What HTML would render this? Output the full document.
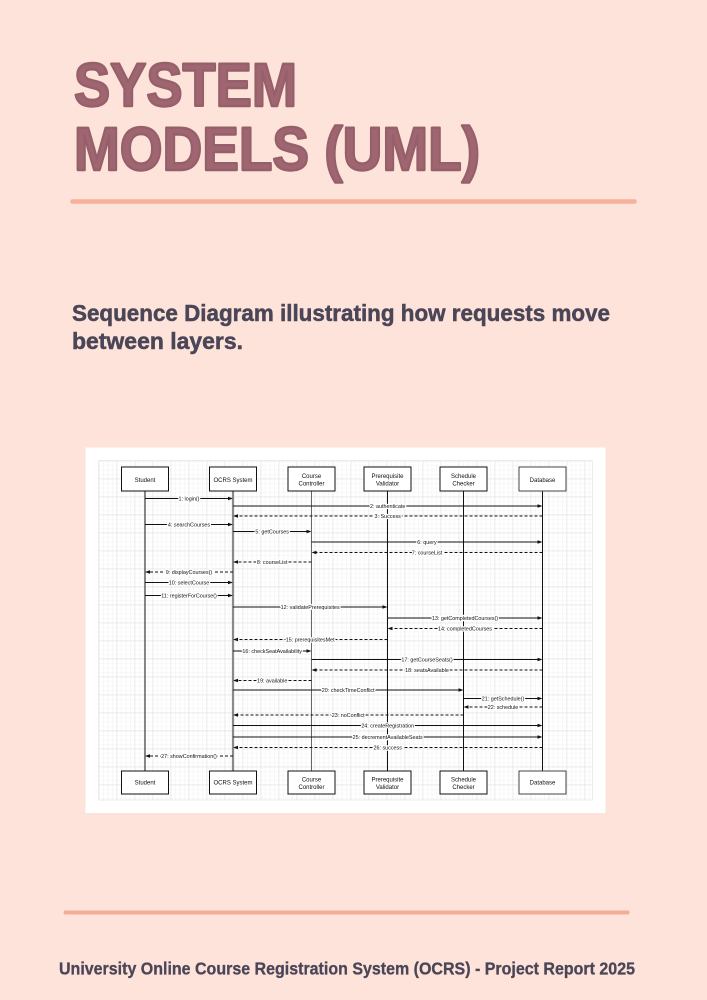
<!DOCTYPE html>
<html>
<head>
<meta charset="utf-8">
<style>
  html,body{margin:0;padding:0;background:#fde3d9;}
  body{width:707px;height:1000px;overflow:hidden;}
  svg{display:block;}
  .t{font-family:"Liberation Sans",Arial,sans-serif;}
</style>
</head>
<body>
<svg width="707" height="1000" viewBox="0 0 707 1000" xmlns="http://www.w3.org/2000/svg">
  <defs>
    <pattern id="minor" x="98.7" y="460.7" width="4.5" height="4.5" patternUnits="userSpaceOnUse">
      <path d="M0 0 H4.5 M0 0 V4.5" stroke="#e8e8e8" stroke-width="0.6" fill="none"/>
    </pattern>
    <pattern id="major" x="98.7" y="460.7" width="18" height="18" patternUnits="userSpaceOnUse">
      <path d="M0 0 H18 M0 0 V18" stroke="#d4d4d4" stroke-width="0.7" fill="none"/>
    </pattern>
  </defs>

  <!-- background -->
  <rect x="0" y="0" width="707" height="1000" fill="#fde3d9"/>

  <!-- Title -->
  <g class="t" font-weight="bold" font-size="61" fill="#9f6571" stroke="#96606b" stroke-width="2.4" stroke-linejoin="round">
    <text x="74" y="106" textLength="223" lengthAdjust="spacingAndGlyphs">SYSTEM</text>
    <text x="74" y="170" textLength="406" lengthAdjust="spacingAndGlyphs">MODELS (UML)</text>
  </g>

  <!-- top rule -->
  <line x1="72.5" y1="201.5" x2="634.5" y2="201.5" stroke="#f6b19c" stroke-width="4.5" stroke-linecap="round"/>

  <!-- Subtitle -->
  <g class="t" font-weight="bold" font-size="23" fill="#4b4657" stroke="#4b4657" stroke-width="0.5">
    <text x="72" y="321" textLength="538" lengthAdjust="spacingAndGlyphs">Sequence Diagram illustrating how requests move</text>
    <text x="72" y="349" textLength="171" lengthAdjust="spacingAndGlyphs">between layers.</text>
  </g>

  <!-- Diagram panel -->
  <rect x="85.5" y="447.5" width="520" height="365.5" fill="#ffffff"/>
  <rect x="98.7" y="460.7" width="493.6" height="339.3" fill="url(#minor)"/>
  <rect x="98.7" y="460.7" width="493.6" height="339.3" fill="url(#major)"/>
  <rect x="98.7" y="460.7" width="493.6" height="339.3" fill="none" stroke="#dedede" stroke-width="0.6"/>

  <!-- lifelines -->
  <g fill="none">
    <line x1="145" y1="491" x2="145" y2="771" stroke="#111" stroke-width="1"/>
    <line x1="233" y1="491" x2="233" y2="771" stroke="#8a8a8a" stroke-width="2.2"/>
    <line x1="311.5" y1="491" x2="311.5" y2="771" stroke="#666" stroke-width="1"/>
    <line x1="387.5" y1="491" x2="387.5" y2="771" stroke="#111" stroke-width="1"/>
    <line x1="463.5" y1="491" x2="463.5" y2="771" stroke="#111" stroke-width="1"/>
    <line x1="542.5" y1="491" x2="542.5" y2="771" stroke="#111" stroke-width="1"/>
  </g>

  <!-- participant boxes -->
  <g fill="#fff" stroke="#111" stroke-width="1">
    <rect x="121.5" y="467" width="47" height="24"/>
    <rect x="209.5" y="467" width="47" height="24"/>
    <rect x="288" y="467" width="47" height="24"/>
    <rect x="364" y="467" width="47" height="24"/>
    <rect x="440" y="467" width="47" height="24"/>
    <rect x="519" y="467" width="47" height="24" stroke="#444"/>
    <rect x="121.5" y="771" width="47" height="23"/>
    <rect x="209.5" y="771" width="47" height="23"/>
    <rect x="288" y="771" width="47" height="23"/>
    <rect x="364" y="771" width="47" height="23"/>
    <rect x="440" y="771" width="47" height="23"/>
    <rect x="519" y="771" width="47" height="23" stroke="#444"/>
  </g>
  <g class="t" font-size="6" fill="#111" text-anchor="middle">
    <text x="145" y="481.8">Student</text>
    <text x="233" y="481.8">OCRS System</text>
    <text x="311.5" y="478.2">Course</text>
    <text x="311.5" y="485.5">Controller</text>
    <text x="387.5" y="478.2">Prerequisite</text>
    <text x="387.5" y="485.5">Validator</text>
    <text x="463.5" y="478.2">Schedule</text>
    <text x="463.5" y="485.5">Checker</text>
    <text x="542.5" y="481.8">Database</text>

    <text x="145" y="784.4">Student</text>
    <text x="233" y="784.4">OCRS System</text>
    <text x="311.5" y="781.4">Course</text>
    <text x="311.5" y="788.8">Controller</text>
    <text x="387.5" y="781.4">Prerequisite</text>
    <text x="387.5" y="788.8">Validator</text>
    <text x="463.5" y="781.4">Schedule</text>
    <text x="463.5" y="788.8">Checker</text>
    <text x="542.5" y="784.4">Database</text>
  </g>

  <!-- messages -->
  <g stroke="#111" stroke-width="0.9" fill="none">
    <line x1="145" y1="498.5" x2="229" y2="498.5"/>
    <line x1="233" y1="506" x2="538.5" y2="506"/>
    <line x1="145" y1="524.5" x2="229" y2="524.5"/>
    <line x1="233" y1="531.5" x2="307.5" y2="531.5"/>
    <line x1="311.5" y1="542" x2="538.5" y2="542"/>
    <line x1="145" y1="582.5" x2="229" y2="582.5"/>
    <line x1="145" y1="595.5" x2="229" y2="595.5"/>
    <line x1="233" y1="607" x2="383.5" y2="607"/>
    <line x1="387.5" y1="618" x2="538.5" y2="618"/>
    <line x1="233" y1="651" x2="307.5" y2="651"/>
    <line x1="311.5" y1="659.5" x2="538.5" y2="659.5"/>
    <line x1="233" y1="690" x2="459.5" y2="690"/>
    <line x1="463.5" y1="698.5" x2="538.5" y2="698.5"/>
    <line x1="233" y1="725.5" x2="538.5" y2="725.5"/>
    <line x1="233" y1="737" x2="538.5" y2="737"/>
  </g>
  <g stroke="#111" stroke-width="0.9" fill="none" stroke-dasharray="3,2">
    <line x1="542.5" y1="516" x2="237" y2="516"/>
    <line x1="542.5" y1="552.5" x2="315.5" y2="552.5"/>
    <line x1="311.5" y1="562" x2="237" y2="562"/>
    <line x1="233" y1="572" x2="149" y2="572"/>
    <line x1="542.5" y1="628.5" x2="391.5" y2="628.5"/>
    <line x1="387.5" y1="639.5" x2="237" y2="639.5"/>
    <line x1="542.5" y1="670" x2="315.5" y2="670"/>
    <line x1="311.5" y1="680.5" x2="237" y2="680.5"/>
    <line x1="542.5" y1="707" x2="467.5" y2="707"/>
    <line x1="463.5" y1="715" x2="237" y2="715"/>
    <line x1="542.5" y1="747.5" x2="237" y2="747.5"/>
    <line x1="233" y1="756" x2="149" y2="756"/>
  </g>

  <!-- arrowheads -->
  <g fill="#111">
    <polygon points="233,498.5 228,496.7 228,500.3"/>
    <polygon points="542.5,506 537.5,504.2 537.5,507.8"/>
    <polygon points="233,524.5 228,522.7 228,526.3"/>
    <polygon points="311.5,531.5 306.5,529.7 306.5,533.3"/>
    <polygon points="542.5,542 537.5,540.2 537.5,543.8"/>
    <polygon points="233,582.5 228,580.7 228,584.3"/>
    <polygon points="233,595.5 228,593.7 228,597.3"/>
    <polygon points="387.5,607 382.5,605.2 382.5,608.8"/>
    <polygon points="542.5,618 537.5,616.2 537.5,619.8"/>
    <polygon points="311.5,651 306.5,649.2 306.5,652.8"/>
    <polygon points="542.5,659.5 537.5,657.7 537.5,661.3"/>
    <polygon points="463.5,690 458.5,688.2 458.5,691.8"/>
    <polygon points="542.5,698.5 537.5,696.7 537.5,700.3"/>
    <polygon points="542.5,725.5 537.5,723.7 537.5,727.3"/>
    <polygon points="542.5,737 537.5,735.2 537.5,738.8"/>
    <polygon points="233,516 238,514.2 238,517.8"/>
    <polygon points="311.5,552.5 316.5,550.7 316.5,554.3"/>
    <polygon points="233,562 238,560.2 238,563.8"/>
    <polygon points="145,572 150,570.2 150,573.8"/>
    <polygon points="387.5,628.5 392.5,626.7 392.5,630.3"/>
    <polygon points="233,639.5 238,637.7 238,641.3"/>
    <polygon points="311.5,670 316.5,668.2 316.5,671.8"/>
    <polygon points="233,680.5 238,678.7 238,682.3"/>
    <polygon points="463.5,707 468.5,705.2 468.5,708.8"/>
    <polygon points="233,715 238,713.2 238,716.8"/>
    <polygon points="233,747.5 238,745.7 238,749.3"/>
    <polygon points="145,756 150,754.2 150,757.8"/>
  </g>

  <!-- message labels -->
  <g class="t" font-size="5.4" fill="#111" text-anchor="middle" stroke="#ffffff" stroke-width="2.4" paint-order="stroke" stroke-linejoin="round">
    <text x="189" y="500.4">1: login()</text>
    <text x="387.7" y="507.9">2: authenticate</text>
    <text x="387.7" y="517.9">3: Success</text>
    <text x="189" y="526.4">4: searchCourses</text>
    <text x="272.2" y="533.4">5: getCourses</text>
    <text x="427" y="543.9">6: query</text>
    <text x="427" y="554.4">7: courseList</text>
    <text x="272.2" y="563.9">8: courseList</text>
    <text x="189" y="573.9">9: displayCourses()</text>
    <text x="189" y="584.4">10: selectCourse</text>
    <text x="189" y="597.4">11: registerForCourse()</text>
    <text x="310.2" y="608.9">12: validatePrerequisites</text>
    <text x="465" y="619.9">13: getCompletedCourses()</text>
    <text x="465" y="630.4">14: completedCourses</text>
    <text x="310.2" y="641.4">15: prerequisitesMet</text>
    <text x="272.2" y="652.9">16: checkSeatAvailability</text>
    <text x="427" y="661.4">17: getCourseSeats()</text>
    <text x="427" y="671.9">18: seatsAvailable</text>
    <text x="272.2" y="682.4">19: available</text>
    <text x="348.2" y="691.9">20: checkTimeConflict</text>
    <text x="503" y="700.4">21: getSchedule()</text>
    <text x="503" y="708.9">22: schedule</text>
    <text x="348.2" y="716.9">23: noConflict</text>
    <text x="387.7" y="727.4">24: createRegistration</text>
    <text x="387.7" y="738.9">25: decrementAvailableSeats</text>
    <text x="387.7" y="749.4">26: success</text>
    <text x="189" y="757.9">27: showConfirmation()</text>
  </g>

  <!-- bottom rule -->
  <line x1="65.5" y1="912.5" x2="627.5" y2="912.5" stroke="#f4ad98" stroke-width="4" stroke-linecap="round"/>

  <!-- footer -->
  <text class="t" x="59" y="974.5" font-size="17.5" font-weight="bold" fill="#4b4657" stroke="#4b4657" stroke-width="0.3" textLength="576" lengthAdjust="spacingAndGlyphs">University Online Course Registration System (OCRS) - Project Report 2025</text>
</svg>
</body>
</html>
